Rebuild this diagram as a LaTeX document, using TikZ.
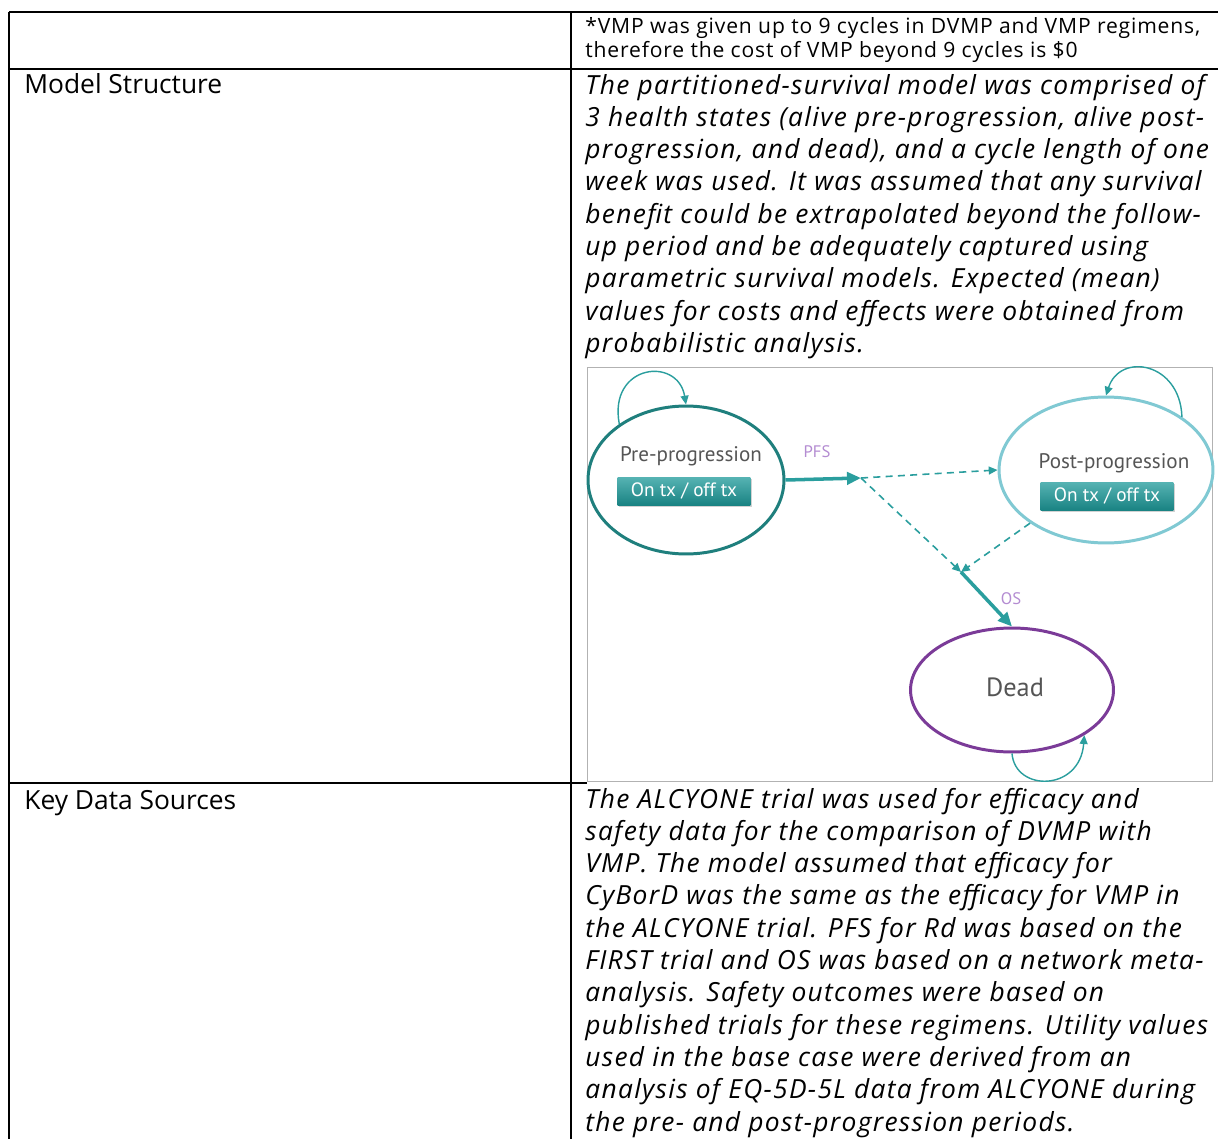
\documentclass[tikz,border=0pt]{standalone}
\usepackage{fontspec}
\setmainfont{Open Sans}
\newfontfamily\diagfont{PT Sans}
\usepackage{xcolor}
\usetikzlibrary{arrows.meta,shapes.geometric,shadows}

\definecolor{tealdark}{HTML}{1F7F7D}
\definecolor{teallight}{HTML}{80C9D3}
\definecolor{tealarrow}{HTML}{2A9E9E}
\definecolor{tealbox}{HTML}{1E9A9A}
\definecolor{deadpurple}{HTML}{7B3B98}
\definecolor{lblpurple}{HTML}{B48CD2}
\definecolor{labelgray}{HTML}{555555}

\begin{document}
\begin{tikzpicture}[x=0.02cm, y=-0.02cm,
  rule/.style={line width=1.15pt, black},
  celltext/.style={anchor=base west, inner sep=0pt, align=left},
  notefont/.style={font=\fontsize{12}{14.2}\selectfont\addfontfeatures{LetterSpace=4}},
  bodyfont/.style={font=\fontsize{15}{18.47}\selectfont},
  italfont/.style={font=\itshape\fontsize{15}{18.4}\selectfont\addfontfeatures{LetterSpace=5}},
  frame/.style={draw=gray!60, line width=0.6pt, fill=white, minimum width=12.52cm,
    minimum height=8.3cm, inner sep=0pt},
  state/.style={ellipse, draw, line width=1.7pt, inner sep=0pt},
  stlbl/.style={text=labelgray, inner sep=0pt, font=\diagfont\fontsize{12}{14}\selectfont},
  txbox/.style={rectangle, inner sep=0pt, minimum width=2.66cm, minimum height=0.56cm,
    top color=tealbox!75!white, bottom color=tealbox!85!black, text=white,
    font=\diagfont\fontsize{11}{12}\selectfont,
    drop shadow={opacity=0.35, shadow xshift=0.8pt, shadow yshift=-1.2pt}},
  lbl/.style={text=lblpurple, inner sep=0pt, font=\diagfont\fontsize{9.5}{11}\selectfont},
  thickarr/.style={-{Triangle[length=8pt,width=7pt]}, line width=2pt, tealarrow},
  dasharr/.style={-{Triangle[length=5pt,width=4.5pt]}, line width=0.9pt, tealarrow,
    dash pattern=on 4pt off 3pt},
  looparr/.style={-{Triangle[length=5pt,width=4.5pt]}, line width=0.8pt, tealarrow}
]
\useasboundingbox (0,0) rectangle (1218,1139);

% table rules
\draw[rule] (9,12) -- (1218,12);
\draw[rule] (9,12) -- (9,1139);
\draw[rule] (571,12) -- (571,1139);
\draw[rule] (9,69) -- (1218,69);
\draw[rule] (9,783) -- (587,783);

% row 1
\node[celltext, notefont] (note) at (585,33) {\begin{tabular}[t]{@{}l@{}}
*VMP was given up to 9 cycles in DVMP and VMP regimens,\\
therefore the cost of VMP beyond 9 cycles is \$0\end{tabular}};

% row 2
\node[celltext, bodyfont] (msLabel) at (24,93) {Model Structure};
\node[celltext, italfont] (msText) at (585,94) {\begin{tabular}[t]{@{}l@{}}
The partitioned-survival model was comprised of\\
3 health states (alive pre-progression, alive post-\\
progression, and dead), and a cycle length of one\\
week was used. It was assumed that any survival\\
benefit could be extrapolated beyond the follow-\\
up period and be adequately captured using\\
parametric survival models. Expected (mean)\\
values for costs and effects were obtained from\\
probabilistic analysis.\end{tabular}};

% state diagram
\node[frame] (diagbox) at (900,574.5) {};
\node[state, draw=tealdark, minimum width=3.92cm, minimum height=2.96cm] (pre) at (686,480) {};
\node[stlbl] (preName) at (691,456) {Pre-progression};
\node[txbox] (preBox) at (684,491) {On tx / off tx};
\node[state, draw=teallight, minimum width=4.28cm, minimum height=2.92cm] (post) at (1106,470) {};
\node[stlbl] (postName) at (1114,463) {Post-progression};
\node[txbox] (postBox) at (1107,496) {On tx / off tx};
\node[state, draw=deadpurple, minimum width=4.06cm, minimum height=2.48cm] (dead) at (1012,690) {};
\node[stlbl, font=\diagfont\fontsize{15}{17}\selectfont] (deadName) at (1015,687) {Dead};

\coordinate (pfsEnd) at (861,478);
\coordinate (osStart) at (961,572);
\node[lbl] (pfsLbl) at (817,452) {PFS};
\node[lbl] (osLbl) at (1011,599) {OS};

\draw[thickarr] (pre.east) -- (pfsEnd);
\draw[dasharr] (pfsEnd) -- (post.west);
\draw[dasharr] (pfsEnd) -- (osStart);
\draw[dasharr] (post.215) -- (osStart);
\draw[thickarr] (osStart) -- (dead.north);

% self loops
\draw[looparr] (pre.140) .. controls (608,364) and (678,356) .. (pre.north);
\draw[looparr] (post.35) .. controls (1180,362) and (1120,352) .. (post.north);
\begin{scope}
  \clip (587,367) rectangle (1213,781);
  \draw[looparr] (dead.south) .. controls (1015,792) and (1080,792) .. (dead.-32);
\end{scope}

% row 3
\node[celltext, bodyfont] (kdLabel) at (24,809) {Key Data Sources};
\node[celltext, italfont] (kdText) at (585,808) {\begin{tabular}[t]{@{}l@{}}
The ALCYONE trial was used for efficacy and\\
safety data for the comparison of DVMP with\\
VMP. The model assumed that efficacy for\\
CyBorD was the same as the efficacy for VMP in\\
the ALCYONE trial. PFS for Rd was based on the\\
FIRST trial and OS was based on a network meta-\\
analysis. Safety outcomes were based on\\
published trials for these regimens. Utility values\\
used in the base case were derived from an\\
analysis of EQ-5D-5L data from ALCYONE during\\
the pre- and post-progression periods.\end{tabular}};
\end{tikzpicture}
\end{document}
